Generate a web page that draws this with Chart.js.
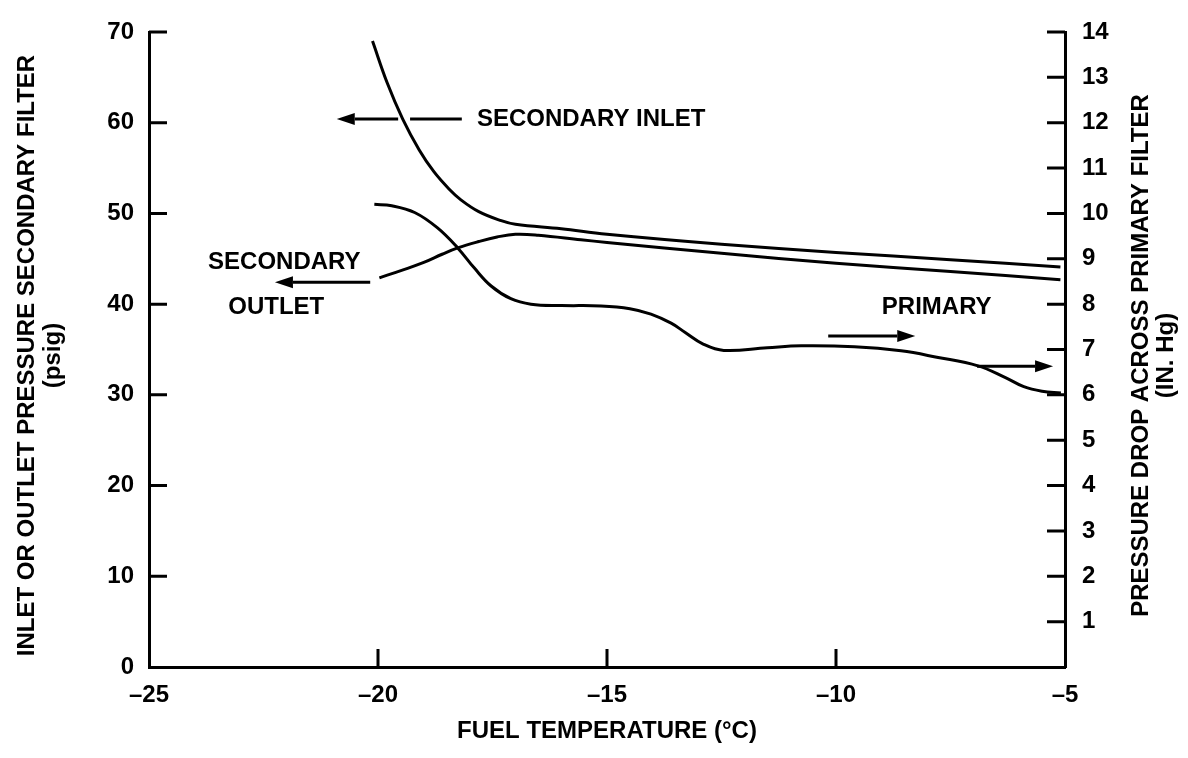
<!DOCTYPE html>
<html>
<head>
<meta charset="utf-8">
<script src="https://cdn.jsdelivr.net/npm/chart.js@4.4.0/dist/chart.umd.min.js"></script>
<style>
  html, body { margin: 0; padding: 0; background: #fff; }
  #wrap { width: 1188px; height: 758px; }
</style>
</head>
<body>
<div id="wrap"><canvas id="chart" width="1188" height="758"></canvas></div>
<script>
// secondary filter inlet pressure (psig, left axis)
const inletTemp = [-20.12, -19.8, -19.46, -19.1, -18.78, -18.45, -18.19, -17.8, -17.31, -17.0, -16.0, -15.0, -12.5, -10.0, -7.5, -5.1];
const inletPsig = [69.0, 64.4, 60.4, 57.0, 54.6, 52.7, 51.5, 50.2, 49.2, 48.8, 48.3, 47.7, 46.6, 45.7, 44.9, 44.1];

// secondary filter outlet pressure (psig, left axis)
const outletTemp = [-19.97, -19.5, -19.0, -18.6, -18.26, -17.8, -17.4, -17.0, -16.5, -15.57, -15.0, -12.5, -10.0, -7.5, -5.1];
const outletPsig = [42.9, 43.7, 44.6, 45.5, 46.2, 46.9, 47.4, 47.7, 47.6, 47.1, 46.8, 45.6, 44.5, 43.6, 42.7];

// pressure drop across primary filter (in. Hg, right axis)
const primaryTemp = [-20.08, -19.7, -19.2, -18.7, -18.26, -17.9, -17.53, -17.1, -16.66, -16.0, -15.13, -14.5, -14.04, -13.6, -13.3, -12.9, -12.45, -11.5, -10.76, -9.6, -8.58, -7.8, -6.9, -6.3, -5.9, -5.5, -5.09];
const primaryHg = [10.2, 10.17, 10.02, 9.68, 9.24, 8.8, 8.4, 8.12, 8.0, 7.97, 7.96, 7.9, 7.78, 7.58, 7.38, 7.12, 6.98, 7.04, 7.08, 7.06, 6.97, 6.83, 6.64, 6.38, 6.18, 6.08, 6.04];

// labels and arrows, placed in data units
const notes = [
  { text: "SECONDARY INLET", x: -17.84, y: 60.4, axis: "y" },
  { text: "SECONDARY", x: -23.71, y: 44.6, axis: "y" },
  { text: "OUTLET", x: -23.27, y: 39.6, axis: "y" },
  { text: "PRIMARY", x: -9.0, y: 7.92, axis: "y2" }
];
const arrows = [
  { from: -18.17, to: -20.9, y: 60.4, axis: "y", gap: [-19.56, -19.3] },
  { from: -20.17, to: -22.25, y: 42.4, axis: "y" },
  { from: -10.17, to: -8.27, y: 7.3, axis: "y2" },
  { from: -6.92, to: -5.26, y: 6.63, axis: "y2" }
];

const FONT = '"Liberation Sans", Arial, sans-serif';

const xy = (xs, ys) => xs.map((x, i) => ({ x, y: ys[i] }));

function curve(label, data, axis) {
  return {
    label, data, yAxisID: axis,
    borderColor: "#000", borderWidth: 3,
    pointRadius: 0, fill: false,
    tension: 0.4
  };
}

function drawArrow(ctx, x1, x2, y, gap) {
  const dir = Math.sign(x2 - x1);
  const head = 18;
  ctx.beginPath();
  if (gap) {
    ctx.moveTo(x1, y); ctx.lineTo(gap[1], y);
    ctx.moveTo(gap[0], y); ctx.lineTo(x2 - dir * head, y);
  } else {
    ctx.moveTo(x1, y); ctx.lineTo(x2 - dir * head, y);
  }
  ctx.stroke();
  ctx.beginPath();
  ctx.moveTo(x2, y);
  ctx.lineTo(x2 - dir * head, y - 6);
  ctx.lineTo(x2 - dir * head, y + 6);
  ctx.closePath();
  ctx.fill();
}

function vText(ctx, text, x, y) {
  ctx.save();
  ctx.translate(x, y);
  ctx.rotate(-Math.PI / 2);
  ctx.fillText(text, 0, 0);
  ctx.restore();
}

const decor = {
  id: "decor",
  afterDatasetsDraw(chart) {
    const { ctx, scales } = chart;
    ctx.save();
    ctx.fillStyle = "#000";
    ctx.strokeStyle = "#000";
    ctx.lineWidth = 3;
    ctx.font = "bold 24px " + FONT;
    ctx.textAlign = "left";
    ctx.textBaseline = "middle";
    notes.forEach(n => {
      ctx.fillText(n.text, scales.x.getPixelForValue(n.x), scales[n.axis].getPixelForValue(n.y));
    });
    arrows.forEach(a => {
      const gap = a.gap ? a.gap.map(v => scales.x.getPixelForValue(v)) : null;
      drawArrow(ctx, scales.x.getPixelForValue(a.from), scales.x.getPixelForValue(a.to),
        scales[a.axis].getPixelForValue(a.y), gap);
    });
    ctx.restore();
  },
  afterDraw(chart) {
    const { ctx, chartArea: a, scales: { x, y, y2 } } = chart;
    ctx.save();
    ctx.strokeStyle = "#000";
    ctx.lineWidth = 3;
    const len = 18;
    // inward tick marks
    ctx.beginPath();
    y.ticks.forEach(t => {
      if (t.value === 0) return;
      const p = y.getPixelForValue(t.value);
      ctx.moveTo(a.left, p); ctx.lineTo(a.left + len, p);
    });
    y2.ticks.forEach(t => {
      if (t.value === 0) return;
      const p = y2.getPixelForValue(t.value);
      ctx.moveTo(a.right, p); ctx.lineTo(a.right - len, p);
    });
    x.ticks.forEach(t => {
      if (t.value <= x.min || t.value >= x.max) return;
      const p = x.getPixelForValue(t.value);
      ctx.moveTo(p, a.bottom); ctx.lineTo(p, a.bottom - len);
    });
    ctx.stroke();

    // axis titles
    ctx.fillStyle = "#000";
    ctx.font = "bold 24px " + FONT;
    ctx.textAlign = "center";
    ctx.textBaseline = "middle";
    const midY = (a.top + a.bottom) / 2 + 6;
    vText(ctx, "INLET OR OUTLET PRESSURE SECONDARY FILTER", 27, midY);
    vText(ctx, "(psig)", 53, midY);
    vText(ctx, "PRESSURE DROP ACROSS PRIMARY FILTER", 1141, midY);
    vText(ctx, "(IN. Hg)", 1166, midY);
    ctx.fillText("FUEL TEMPERATURE (°C)", (a.left + a.right) / 2, 731);
    ctx.restore();
  }
};

const tickFont = { family: FONT, size: 24, weight: "bold" };
const border = { display: true, color: "#000", width: 3 };

new Chart(document.getElementById("chart"), {
  type: "line",
  data: {
    datasets: [
      curve("Secondary inlet", xy(inletTemp, inletPsig), "y"),
      curve("Secondary outlet", xy(outletTemp, outletPsig), "y"),
      curve("Primary", xy(primaryTemp, primaryHg), "y2")
    ]
  },
  options: {
    responsive: false,
    animation: false,
    layout: { padding: { top: 32 } },
    plugins: { legend: { display: false }, tooltip: { enabled: false } },
    scales: {
      x: {
        type: "linear", min: -25, max: -5,
        ticks: { stepSize: 5, padding: 14, color: "#000", font: tickFont,
          callback: v => v < 0 ? "\u2013" + Math.abs(v) : v },
        grid: { display: false, drawTicks: false },
        border,
        afterFit: s => { s.height = 91; }
      },
      y: {
        position: "left", min: 0, max: 70,
        ticks: { stepSize: 10, padding: 15, color: "#000", font: tickFont },
        grid: { display: false, drawTicks: false },
        border,
        afterFit: s => { s.width = 149; }
      },
      y2: {
        position: "right", min: 0, max: 14,
        ticks: { stepSize: 1, padding: 17, color: "#000", font: tickFont,
          callback: v => v === 0 ? "" : v },
        grid: { display: false, drawTicks: false },
        border,
        afterFit: s => { s.width = 123; }
      }
    }
  },
  plugins: [decor]
});
</script>
</body>
</html>
